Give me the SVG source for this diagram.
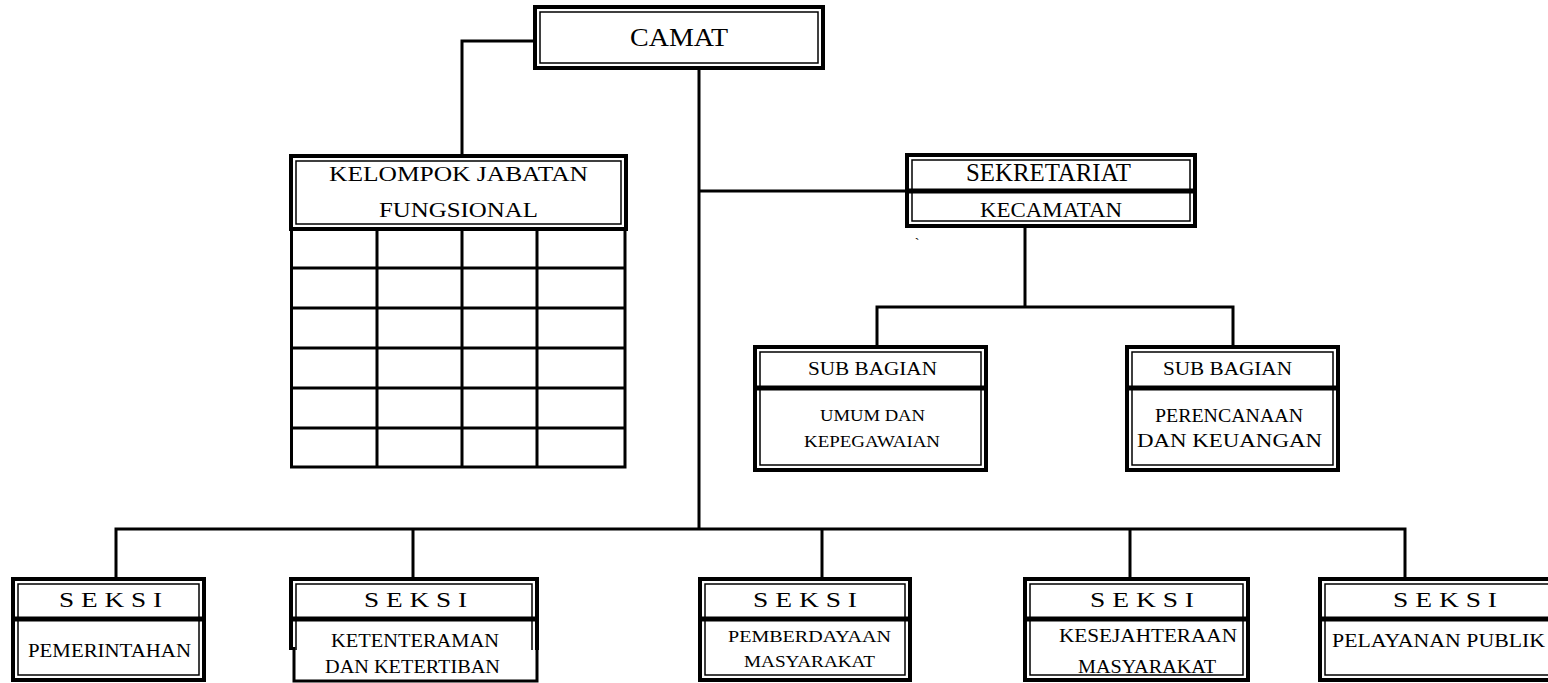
<svg xmlns="http://www.w3.org/2000/svg" width="1548" height="683" viewBox="0 0 1548 683">
<style>
.o{fill:#fff;stroke:#000;stroke-width:4}
.i{fill:none;stroke:#000;stroke-width:1.5}
.d{stroke:#000;stroke-width:5}
.c{fill:none;stroke:#000;stroke-width:3}
.g{fill:none;stroke:#000;stroke-width:3}
text{font-family:"Liberation Serif","Times New Roman",serif;fill:#000;text-anchor:middle}
</style>
<rect width="1548" height="683" fill="#fff"/>
<g id="connectors">
<path class="c" d="M535,41 H462 V156"/>
<path class="c" d="M699,68 V529"/>
<path class="c" d="M699,191 H907"/>
<path class="c" d="M1025,226 V307"/>
<path class="c" d="M877,347 V307 H1233 V347"/>
<path class="c" d="M116,579 V529 H1405 V579"/>
<path class="c" d="M413,579 V529"/>
<path class="c" d="M822,579 V529"/>
<path class="c" d="M1130,579 V529"/>
</g>
<g id="camat">
<rect class="o" x="535" y="7" width="288" height="61"/>
<rect class="i" x="540" y="12" width="278" height="51"/>
<text x="679" y="46" font-size="26" textLength="98" lengthAdjust="spacingAndGlyphs">CAMAT</text>
</g>
<g id="kelompok">
<rect class="o" x="291" y="156" width="335" height="73"/>
<rect class="i" x="296" y="161" width="325" height="63"/>
<text x="458.5" y="181" font-size="21" textLength="259" lengthAdjust="spacingAndGlyphs">KELOMPOK JABATAN</text>
<text x="458.5" y="217" font-size="21" textLength="159" lengthAdjust="spacingAndGlyphs">FUNGSIONAL</text>
<path class="g" d="M291.5,231 V467 H625 V231 M377,231 V467 M462,231 V467 M537,231 V467 M291.5,268 H625 M291.5,308 H625 M291.5,348 H625 M291.5,388 H625 M291.5,428 H625"/>
</g>
<g id="sekretariat">
<rect class="o" x="907" y="155" width="288" height="71"/>
<rect class="i" x="912" y="160" width="278" height="61"/>
<line class="d" x1="907" y1="191" x2="1195" y2="191"/>
<text x="1048.5" y="181" font-size="25" textLength="165" lengthAdjust="spacingAndGlyphs">SEKRETARIAT</text>
<text x="1051" y="217" font-size="20" textLength="142" lengthAdjust="spacingAndGlyphs">KECAMATAN</text>
<text x="917" y="248" font-size="14" text-anchor="middle">`</text>
</g>
<g id="subbagian-umum">
<rect class="o" x="755" y="347" width="231" height="123"/>
<rect class="i" x="760" y="352" width="221" height="113"/>
<line class="d" x1="755" y1="388" x2="986" y2="388"/>
<text x="872.5" y="375" font-size="19" textLength="129" lengthAdjust="spacingAndGlyphs">SUB BAGIAN</text>
<text x="872.5" y="421" font-size="16" textLength="105" lengthAdjust="spacingAndGlyphs">UMUM DAN</text>
<text x="872" y="447" font-size="16" textLength="136" lengthAdjust="spacingAndGlyphs">KEPEGAWAIAN</text>
</g>
<g id="subbagian-perencanaan">
<rect class="o" x="1127" y="347" width="211" height="123"/>
<rect class="i" x="1132" y="352" width="201" height="113"/>
<line class="d" x1="1127" y1="388" x2="1338" y2="388"/>
<text x="1227.5" y="375" font-size="19" textLength="129" lengthAdjust="spacingAndGlyphs">SUB BAGIAN</text>
<text x="1229" y="422" font-size="19" textLength="148" lengthAdjust="spacingAndGlyphs">PERENCANAAN</text>
<text x="1229.5" y="447" font-size="19" textLength="185" lengthAdjust="spacingAndGlyphs">DAN KEUANGAN</text>
</g>
<g id="seksi-pemerintahan">
<rect class="o" x="13" y="579" width="191" height="101"/>
<rect class="i" x="18" y="584" width="181" height="91"/>
<line class="d" x1="13" y1="619" x2="204" y2="619"/>
<text x="110.5" y="607" font-size="21" textLength="103" lengthAdjust="spacingAndGlyphs">S E K S I</text>
<text x="109.5" y="657" font-size="19" textLength="163" lengthAdjust="spacingAndGlyphs">PEMERINTAHAN</text>
</g>
<g id="seksi-ketenteraman">
<rect x="293" y="579" width="244" height="102" fill="#fff"/>
<path fill="none" stroke="#000" stroke-width="4" d="M291,650 V579 H537 V650"/>
<path class="i" d="M296,650 V584 H532 V650"/>
<path fill="none" stroke="#000" stroke-width="3" d="M294,647 V681 H537 V647"/>
<line class="d" x1="291" y1="619" x2="537" y2="619"/>
<text x="415.5" y="607" font-size="21" textLength="103" lengthAdjust="spacingAndGlyphs">S E K S I</text>
<text x="415" y="647" font-size="19" textLength="168" lengthAdjust="spacingAndGlyphs">KETENTERAMAN</text>
<text x="412.5" y="673" font-size="19" textLength="175" lengthAdjust="spacingAndGlyphs">DAN KETERTIBAN</text>
</g>
<g id="seksi-pemberdayaan">
<rect class="o" x="700" y="579" width="210" height="101"/>
<rect class="i" x="705" y="584" width="200" height="91"/>
<line class="d" x1="700" y1="619" x2="910" y2="619"/>
<text x="805" y="607" font-size="21" textLength="104" lengthAdjust="spacingAndGlyphs">S E K S I</text>
<text x="809.5" y="642" font-size="17" textLength="163" lengthAdjust="spacingAndGlyphs">PEMBERDAYAAN</text>
<text x="809.5" y="667" font-size="17" textLength="131" lengthAdjust="spacingAndGlyphs">MASYARAKAT</text>
</g>
<g id="seksi-kesejahteraan">
<rect class="o" x="1025" y="579" width="223" height="101"/>
<rect class="i" x="1030" y="584" width="213" height="91"/>
<line class="d" x1="1025" y1="619" x2="1248" y2="619"/>
<text x="1142" y="607" font-size="21" textLength="104" lengthAdjust="spacingAndGlyphs">S E K S I</text>
<text x="1148" y="642" font-size="19" textLength="178" lengthAdjust="spacingAndGlyphs">KESEJAHTERAAN</text>
<text x="1147" y="673" font-size="19" textLength="138" lengthAdjust="spacingAndGlyphs">MASYARAKAT</text>
</g>
<g id="seksi-pelayanan">
<rect class="o" x="1320" y="579" width="250" height="101"/>
<rect class="i" x="1325" y="584" width="240" height="91"/>
<line class="d" x1="1320" y1="619" x2="1570" y2="619"/>
<text x="1445" y="607" font-size="21" textLength="104" lengthAdjust="spacingAndGlyphs">S E K S I</text>
<text x="1438.5" y="647" font-size="19" textLength="213" lengthAdjust="spacingAndGlyphs">PELAYANAN PUBLIK</text>
</g>
</svg>
